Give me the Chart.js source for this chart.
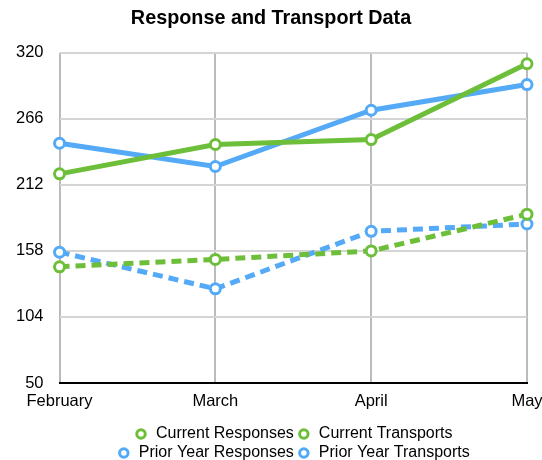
<!DOCTYPE html>
<html>
<head>
<meta charset="utf-8">
<script src="https://cdn.jsdelivr.net/npm/chart.js@4/dist/chart.umd.min.js"></script>
<style>
  html, body { margin: 0; padding: 0; background: #fff; }
  #wrap { width: 542px; height: 460px; }
</style>
</head>
<body>
<div id="wrap"><canvas id="lineChart"></canvas></div>
<script>
"use strict";
var months = ['February', 'March', 'April', 'May'];
var currentResponses = [221, 245, 249, 311];
var currentTransports = [145, 151, 158, 188];
var priorResponses = [246, 227, 273, 294];
var priorTransports = [157, 127, 174, 180];
var yTicks = [50, 104, 158, 212, 266, 320];

var green = '#6dbf3a';
var blue = '#55aaf8';

function series(label, values, color, dashed) {
    return {
        label: label,
        data: values,
        borderColor: color,
        backgroundColor: '#fff',
        borderWidth: 5,
        borderDash: dashed ? [10, 6] : [],
        pointRadius: 5,
        pointBorderWidth: 3,
        pointBackgroundColor: '#fff',
        pointBorderColor: color,
        tension: 0
    };
}

var ctx = document.getElementById('lineChart').getContext('2d');
var chart = new Chart(ctx, {
    type: 'line',
    data: {
        labels: months,
        datasets: [
            series('Current Responses', currentResponses, green, false),
            series('Current Transports', currentTransports, green, true),
            series('Prior Year Responses', priorResponses, blue, false),
            series('Prior Year Transports', priorTransports, blue, true)
        ]
    },
    options: {
        responsive: true,
        maintainAspectRatio: false,
        animation: false,
        layout: { padding: { left: 0, right: 0, top: 0, bottom: -11 } },
        plugins: {
            title: {
                display: true,
                text: 'Response and Transport Data',
                color: '#000',
                font: { family: 'Liberation Sans', size: 19.8, weight: 'bold' },
                padding: { top: 7, bottom: 22 }
            },
            legend: {
                position: 'bottom',
                fullSize: false,
                title: { display: true, text: '', font: { size: 1 }, padding: { top: 1, bottom: 0 } },
                labels: {
                    usePointStyle: true,
                    pointStyle: 'circle',
                    boxWidth: 14,
                    boxHeight: 6,
                    padding: 3,
                    color: '#000',
                    font: { family: 'Liberation Sans', size: 16 },
                    generateLabels: function(c) {
                        return c.data.datasets.map(function(ds, i) {
                            return {
                                text: ds.label,
                                fillStyle: '#fff',
                                strokeStyle: ds.borderColor,
                                fontColor: '#000',
                                lineWidth: 3,
                                lineDash: [],
                                pointStyle: 'circle',
                                datasetIndex: i,
                                hidden: false
                            };
                        });
                    }
                }
            },
            tooltip: { enabled: false }
        },
        scales: {
            x: {
                afterFit: function(s) { s.paddingRight = 15; },
                grid: { color: '#bbb', lineWidth: 2, drawTicks: false },
                border: { color: '#000', width: 2 },
                ticks: {
                    color: '#000',
                    padding: 9,
                    maxRotation: 0,
                    font: { family: 'Liberation Sans', size: 16.5 }
                }
            },
            y: {
                min: 50,
                max: 320,
                afterBuildTicks: function(axis) {
                    axis.ticks = yTicks.map(function(v) { return { value: v }; });
                },
                grid: { color: '#d4d4d4', lineWidth: 2, drawTicks: false },
                border: { display: false },
                ticks: {
                    color: '#000',
                    padding: 16,
                    font: { family: 'Liberation Sans', size: 16.5 }
                }
            }
        }
    }
});
</script>
</body>
</html>
